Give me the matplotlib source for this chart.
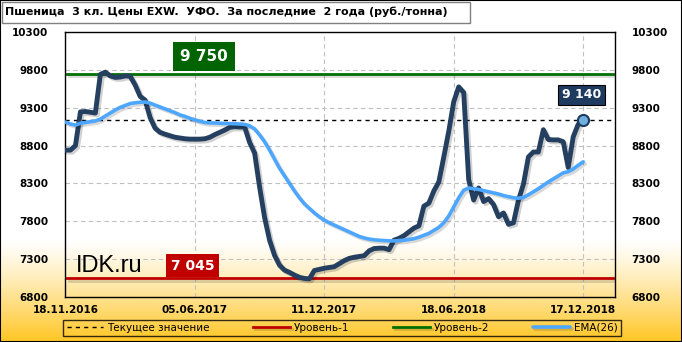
import numpy as np
import matplotlib as mpl
mpl.use('Agg')
import matplotlib.pyplot as plt
import matplotlib.patheffects as pe
from matplotlib.patches import Rectangle

plt.rcParams['font.family'] = ['DejaVu Sans']

title = 'Пшеница  3 кл. Цены EXW.  УФО.  За последние  2 года (руб./тонна)'
date_labels = ['18.11.2016', '05.06.2017', '11.12.2017', '18.06.2018', '17.12.2018']
date_idx = [0, 26, 52, 78, 104]

# weekly price, rub/t
price = [8740, 8740, 8800, 9245, 9250, 9240, 9230, 9740, 9770, 9720,
         9700, 9705, 9720, 9715, 9600, 9450, 9400, 9170, 9030, 8975,
         8950, 8930, 8910, 8900, 8890, 8885, 8885, 8885, 8890, 8910,
         8945, 8975, 9005, 9040, 9050, 9045, 9045, 8840, 8700, 8250,
         7850, 7550, 7350, 7220, 7155, 7125, 7090, 7060, 7045, 7040,
         7150, 7165, 7180, 7190, 7200, 7240, 7280, 7310, 7325, 7335,
         7345, 7410, 7440, 7445, 7445, 7425, 7550, 7575, 7610, 7660,
         7710, 7740, 8000, 8040, 8200, 8320, 8650, 8990, 9380, 9575,
         9500, 8350, 8080, 8240, 8060, 8100, 8020, 7860, 7910, 7760,
         7780, 8080, 8290, 8650, 8715, 8715, 9010, 8880, 8875, 8875,
         8850, 8510, 8915, 9080, 9140]

ema26 = [9110, 9085, 9070, 9095, 9105, 9115, 9125, 9150, 9190, 9230,
         9270, 9305, 9330, 9355, 9365, 9372, 9375, 9360, 9335, 9310,
         9285, 9260, 9235, 9205, 9185, 9160, 9140, 9120, 9105, 9100,
         9098, 9095, 9092, 9090, 9088, 9085, 9080, 9060, 9020, 8940,
         8850, 8740, 8620, 8500, 8400, 8300, 8200, 8110, 8030, 7970,
         7910, 7860, 7815, 7780, 7750, 7720, 7690, 7660, 7630, 7600,
         7580, 7565, 7555, 7550, 7545, 7542, 7540, 7545, 7550, 7560,
         7570, 7590, 7615, 7640, 7680, 7720, 7780, 7870, 7990, 8110,
         8210, 8240, 8230, 8220, 8205, 8190, 8175, 8160, 8140, 8125,
         8110, 8105, 8115, 8150, 8190, 8230, 8275, 8320, 8360, 8400,
         8440, 8455, 8490, 8540, 8585]

level1 = 7045
level2 = 9750
current = 9140

fig = plt.figure(figsize=(6.82, 3.42), dpi=100)

# background gradient (white -> gold at the bottom)
bg = fig.add_axes([0, 0, 1, 1], zorder=-5)
h = 342
yy = np.linspace(1, 0, h)
t = np.clip((0.30 - yy) / 0.30, 0, 1) ** 1.2
gold = np.array([255, 198, 35]) / 255
img = np.ones((h, 1, 3)) * (1 - t[:, None, None]) + gold[None, None, :] * t[:, None, None]
bg.imshow(img, aspect='auto', extent=[0, 1, 0, 1])
bg.set_axis_off()

ax = fig.add_axes([0.0953, 0.1316, 0.8065, 0.7748])
ax.patch.set_alpha(0)
x = np.arange(len(price))

shadow = [pe.SimpleLineShadow(offset=(1.5, -1.5), alpha=0.15), pe.Normal()]

l_cur = ax.axhline(current, color='black', lw=1, ls=(0, (3, 3)), label='Текущее значение')
l1 = ax.axhline(level1, xmin=0.004, xmax=0.996, color='#c00000', lw=2, label='Уровень-1',
                path_effects=shadow)
l2 = ax.axhline(level2, xmin=0.004, xmax=0.996, color='#007000', lw=2, label='Уровень-2',
                path_effects=shadow)
ax.plot(x, price, color='#243f60', lw=3.5, solid_joinstyle='round', solid_capstyle='round',
        path_effects=[pe.SimpleLineShadow(offset=(1.5, -1.5), alpha=0.18), pe.Normal()],
        zorder=4)
l_ema, = ax.plot(x, ema26, color='#4da6ff', lw=2.6, solid_capstyle='round', label='EMA(26)',
                 path_effects=shadow, zorder=5)
ax.plot([x[-1]], [price[-1]], 'o', ms=8, mfc='#6fb0e0', mec='#1f3a5f', mew=1.5, zorder=6)

ax.set_xlim(-0.1, 110.4)
ax.set_ylim(6800, 10300)
ax.set_yticks(np.arange(6800, 10301, 500))
ax.set_xticks(date_idx)
ax.set_xticklabels(date_labels)
ax.tick_params(axis='both', length=0, labelsize=7.5)
ax.tick_params(axis='y', labelright=True, pad=12)
ax.tick_params(axis='x', pad=6)
for lab in ax.get_xticklabels() + ax.get_yticklabels():
    lab.set_fontweight('bold')
ax.grid(True, color='#c0c0c0', ls=(0, (4, 3)), lw=0.8)
for s in ax.spines.values():
    s.set_color('black')
    s.set_linewidth(1)

ax.text(27.8, 9975, '9 750', color='white', fontsize=11, fontweight='bold', ha='center',
        va='center', bbox=dict(fc='#006400', lw=0, boxstyle='square,pad=0.45'), zorder=7)
ax.text(25.5, 7215, '7 045', color='white', fontsize=10, fontweight='bold', ha='center',
        va='center', bbox=dict(fc='#c00000', lw=0, boxstyle='square,pad=0.35'), zorder=7)
ax.text(103.6, 9470, '9 140', color='white', fontsize=9, fontweight='bold', ha='center',
        va='center', bbox=dict(fc='#1f3a5f', ec='black', lw=0.8, boxstyle='square,pad=0.3'),
        zorder=7)
ax.text(2, 7210, 'IDK.ru', fontsize=17, family='Liberation Sans', ha='left', va='center',
        zorder=7)

# title box
fig.patches.append(Rectangle((2 / 682, 1 - 23 / 342), 468 / 682, 21 / 342,
                             transform=fig.transFigure, fc='white', ec='#808080', lw=1))
fig.text(5 / 682, 1 - 12 / 342, title, fontsize=8, fontweight='bold', ha='left', va='center')

leg = fig.legend(handles=[l_cur, l1, l2, l_ema], loc='center',
                 bbox_to_anchor=(342 / 682, 1 - 328 / 342), ncol=4, fontsize=7.5,
                 frameon=True, fancybox=False, edgecolor='black', handlelength=3.5,
                 columnspacing=4.2, handletextpad=0.4, borderpad=0.3, borderaxespad=0)
leg.get_frame().set_facecolor('none')
leg.get_frame().set_linewidth(1)

fig.patches.append(Rectangle((0, 0), 1, 1, transform=fig.transFigure, fill=False,
                             ec='black', lw=1.5))

fig.savefig('out.png', dpi=100)
